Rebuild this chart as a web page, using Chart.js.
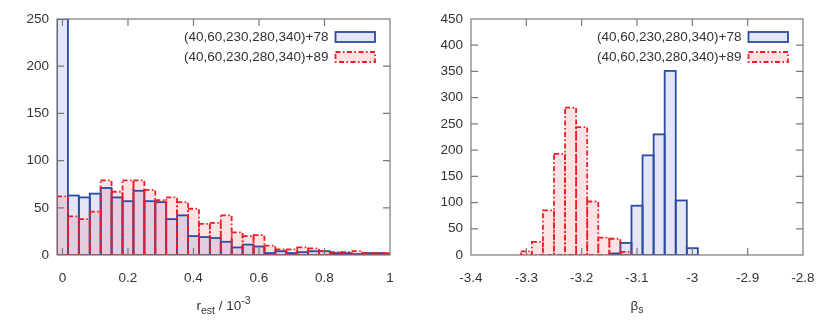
<!DOCTYPE html>
<html><head><meta charset="utf-8">
<script src="https://cdn.jsdelivr.net/npm/chart.js@4/dist/chart.umd.min.js"></script>
<style>
html,body{margin:0;padding:0;background:#fff;}
#wrap{position:relative;width:830px;height:329px;overflow:hidden;}
.c{position:absolute;top:0;width:415px;height:329px;}
</style></head><body>
<div id="wrap">
<div class="c" style="left:0"><canvas id="cL"></canvas></div>
<div class="c" style="left:415px"><canvas id="cR"></canvas></div>
</div>
<script>
// ---------- data ----------
const seriesLabels = ['(40,60,230,280,340)+78', '(40,60,230,280,340)+89'];

const leftBinCenters = [0,0.0333,0.0667,0.1,0.1333,0.1667,0.2,0.2333,0.2667,0.3,0.3333,0.3667,0.4,0.4333,0.4667,0.5,0.5333,0.5667,0.6,0.6333,0.6667,0.7,0.7333,0.7667,0.8,0.8333,0.8667,0.9,0.9333,0.9667,1];
const leftSeries78 = [250,63,61,65,71,61,57,68,57,56,38,42,20,19,18,14,8,11,9,2,4,2,3,4,4,2,2,1,2,2,1];
const leftSeries89 = [62,41,38,46,79,67,79,79,69,58,61,56,49,33,34,42,24,20,21,10,6,6,8,7,4,3,3,4,2,2,2];
const leftXTicks = [0,0.2,0.4,0.6,0.8,1];
const leftXTickLabels = ['0','0.2','0.4','0.6','0.8','1'];
const leftYTicks = [0,50,100,150,200,250];

const rightBinCenters = [-3.30,-3.28,-3.26,-3.24,-3.22,-3.20,-3.18,-3.16,-3.14,-3.12,-3.10,-3.08,-3.06,-3.04,-3.02,-3.00];
const rightSeries78 = [0,0,0,0,0,0,0,0,3,23,94,190,230,351,104,13];
const rightSeries89 = [7,25,85,193,281,244,102,33,31,6,0,0,0,0,0,0];
const rightXTicks = [-3.4,-3.3,-3.2,-3.1,-3,-2.9,-2.8];
const rightXTickLabels = ['-3.4','-3.3','-3.2','-3.1','-3','-2.9','-2.8'];
const rightYTicks = [0,50,100,150,200,250,300,350,400,450];

// ---------- style ----------
const FONT = "'Liberation Sans', Arial, Helvetica, sans-serif";
const TXT = '#333333';
const FRAME = '#7a7a7a';
const BLUE_LINE = '#2b4ca3', BLUE_FILL = 'rgba(45,60,175,0.13)';
const RED_LINE = '#ee1c25', RED_FILL = 'rgba(245,30,45,0.13)';
const RED_DASH = [5, 2.5, 1.5, 2.5];

Chart.defaults.font.family = FONT;
Chart.defaults.font.size = 13.5;
Chart.defaults.color = TXT;

function drawFancyText(ctx, parts, cx, baseline) {
  let total = 0;
  parts.forEach(p => { ctx.font = p.size + 'px ' + FONT; p.w = ctx.measureText(p.t).width; total += p.w; });
  let x = cx - total / 2;
  ctx.textAlign = 'left'; ctx.textBaseline = 'alphabetic'; ctx.fillStyle = TXT;
  parts.forEach(p => { ctx.font = p.size + 'px ' + FONT; ctx.fillText(p.t, x, baseline + p.dy); x += p.w; });
}

function makeChart(id, cfg) {
  const outlines = {
    id: 'outlines',
    afterDatasetsDraw(chart) {
      const ctx = chart.ctx, a = chart.chartArea;
      ctx.save();
      ctx.beginPath(); ctx.rect(a.left, a.top, a.right - a.left, a.bottom - a.top); ctx.clip();
      chart.data.datasets.forEach((ds, i) => {
        const meta = chart.getDatasetMeta(i);
        ctx.strokeStyle = ds.lineColor; ctx.lineWidth = ds.lineW; ctx.setLineDash(ds.dash || []);
        meta.data.forEach((bar, j) => {
          const raw = ds.data[j];
          if (!raw || !raw.y) return;
          const p = bar.getProps(['x', 'y', 'base', 'width'], true);
          ctx.strokeRect(p.x - p.width / 2, p.y, p.width, p.base - p.y);
        });
      });
      ctx.restore();
    }
  };
  const frame = {
    id: 'frame',
    afterDraw(chart) {
      const ctx = chart.ctx, a = chart.chartArea, xs = chart.scales.x, ys = chart.scales.y;
      ctx.save();
      ctx.strokeStyle = FRAME; ctx.lineWidth = 1.2; ctx.setLineDash([]);
      ctx.strokeRect(a.left, a.top, a.right - a.left, a.bottom - a.top);
      const tl = 7;
      ctx.beginPath();
      xs.ticks.forEach(t => {
        const px = xs.getPixelForValue(t.value);
        if (px <= a.left + 1 || px >= a.right - 1) return;
        ctx.moveTo(px, a.bottom); ctx.lineTo(px, a.bottom - tl);
        ctx.moveTo(px, a.top); ctx.lineTo(px, a.top + tl);
      });
      ys.ticks.forEach(t => {
        const py = ys.getPixelForValue(t.value);
        if (py <= a.top + 1 || py >= a.bottom - 1) return;
        ctx.moveTo(a.left, py); ctx.lineTo(a.left + tl, py);
        ctx.moveTo(a.right, py); ctx.lineTo(a.right - tl, py);
      });
      ctx.stroke();
      // legend
      const ds = chart.data.datasets;
      ds.forEach((d, i) => {
        const bw = 39.5, bh = 10;
        const bx = a.right - 15 - bw;
        const by = a.top + 13 + i * 20;
        ctx.fillStyle = d.backgroundColor;
        ctx.fillRect(bx, by, bw, bh);
        ctx.strokeStyle = d.lineColor; ctx.lineWidth = d.lineW; ctx.setLineDash(d.dash || []);
        ctx.strokeRect(bx, by, bw, bh);
        ctx.setLineDash([]);
        ctx.font = '13.5px ' + FONT; ctx.fillStyle = TXT;
        ctx.textAlign = 'right'; ctx.textBaseline = 'middle';
        ctx.fillText(d.label, bx - 7, by + bh / 2 + 0.5);
      });
      // axis title
      drawFancyText(ctx, cfg.title, (a.left + a.right) / 2, 310);
      ctx.restore();
    }
  };
  const mk = (vals, centers) => centers.map((x, i) => ({ x: x, y: vals[i] }));
  return new Chart(document.getElementById(id), {
    type: 'bar',
    data: {
      datasets: [
        { label: seriesLabels[0], data: mk(cfg.s78, cfg.centers), backgroundColor: BLUE_FILL, borderWidth: 0,
          barPercentage: 1, categoryPercentage: 1, grouped: false, lineColor: BLUE_LINE, lineW: 1.8, dash: [] },
        { label: seriesLabels[1], data: mk(cfg.s89, cfg.centers), backgroundColor: RED_FILL, borderWidth: 0,
          barPercentage: 1, categoryPercentage: 1, grouped: false, lineColor: RED_LINE, lineW: 1.8, dash: RED_DASH }
      ]
    },
    options: {
      responsive: true, maintainAspectRatio: false, devicePixelRatio: 1, animation: false,
      layout: { padding: { top: 19, right: cfg.padRight, left: 0, bottom: 0 } },
      plugins: { legend: { display: false }, tooltip: { enabled: false } },
      scales: {
        x: {
          type: 'linear', min: cfg.xmin, max: cfg.xmax, offset: false,
          grid: { display: false, drawTicks: false }, border: { display: false },
          afterBuildTicks: s => { s.ticks = cfg.xTicks.map(v => ({ value: v })); },
          ticks: { padding: 15, color: TXT, autoSkip: false, maxRotation: 0,
            callback: v => { const k = cfg.xTicks.findIndex(t => Math.abs(t - v) < 1e-9); return k >= 0 ? cfg.xLabels[k] : ''; } },
          afterFit: s => { s.height = 74; }
        },
        y: {
          min: 0, max: cfg.ymax,
          grid: { display: false, drawTicks: false }, border: { display: false },
          afterBuildTicks: s => { s.ticks = cfg.yTicks.map(v => ({ value: v })); },
          ticks: { padding: 8, color: TXT, autoSkip: false },
          afterFit: s => { s.width = cfg.yWidth; }
        }
      }
    },
    plugins: [outlines, frame]
  });
}

makeChart('cL', {
  centers: leftBinCenters, s78: leftSeries78, s89: leftSeries89,
  xmin: -0.0167, xmax: 1, ymax: 250, xTicks: leftXTicks, xLabels: leftXTickLabels, yTicks: leftYTicks,
  padRight: 25, yWidth: 57,
  title: [{ t: 'r', size: 13.5, dy: 0 }, { t: 'est', size: 10.5, dy: 4 }, { t: ' / 10', size: 13.5, dy: 0 }, { t: '-3', size: 10.5, dy: -6 }]
});
makeChart('cR', {
  centers: rightBinCenters, s78: rightSeries78, s89: rightSeries89,
  xmin: -3.4, xmax: -2.8, ymax: 450, xTicks: rightXTicks, xLabels: rightXTickLabels, yTicks: rightYTicks,
  padRight: 27, yWidth: 56,
  title: [{ t: 'β', size: 13.5, dy: 0 }, { t: 's', size: 10.5, dy: 3 }]
});
</script>
</body></html>
